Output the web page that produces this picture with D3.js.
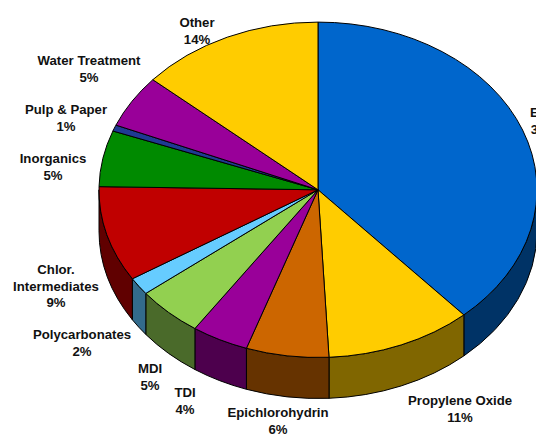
<!DOCTYPE html>
<html>
<head>
<meta charset="utf-8">
<script src="https://cdn.jsdelivr.net/npm/d3@7"></script>
<style>
  html, body { margin: 0; padding: 0; background: #fff; overflow: hidden; }
  text { font-family: "Liberation Sans", Arial, sans-serif; font-weight: bold; font-size: 13.2px; fill: #111; }
</style>
</head>
<body>
<div id="chart"></div>
<script>
// clockwise from 12 o'clock, same order as the picture
const categories = ["EDC", "Propylene Oxide", "Epichlorohydrin", "TDI", "MDI", "Polycarbonates",
  "Chlor.|Intermediates", "Inorganics", "Pulp & Paper", "Water Treatment", "Other"]
const shares = [38.4, 10.8, 6.1, 4.2, 4.9, 1.7, 9.2, 5.4, 0.6, 5.1, 13.6]

const topColors = ["#0066cc", "#ffcc00", "#cc6600", "#990099", "#92d050", "#66ccff",
  "#c00000", "#008a00", "#1f3a93", "#990099", "#ffcc00"]
const sideColors = ["#003366", "#806600", "#663300", "#4d004d", "#4a6a2a", "#336b8c",
  "#600000", "#004500", "#101d4a", "#4d004d", "#806600"]

// label centre x and first baseline y, one per category
const labelX = [544, 460, 278, 185, 150, 82, 56, 53, 66, 89, 197]
const labelY = [117, 405, 417, 397, 373, 339, 274, 163, 114, 65, 27]

const width = 536, height = 435
const cx = 318, cy = 189.8, rx = 219, ry = 167.7, depth = 41
const lineGap = 16.5

const svg = d3.select("#chart").append("svg")
  .attr("width", width)
  .attr("height", height)

const pie = d3.pie().value(d => d).sort(null)
const slices = pie(shares)

// point on the rim, angle measured clockwise from the top
const rimX = a => cx + rx * Math.sin(a)
const rimY = a => cy - ry * Math.cos(a)

/* ~ ~ ~ side wall, only the front half of the rim can be seen ~ ~ ~ */
const wallPath = (from, to) => {
  return `M${rimX(from)},${rimY(from)}`
    + `A${rx},${ry} 0 0 1 ${rimX(to)},${rimY(to)}`
    + `L${rimX(to)},${rimY(to) + depth}`
    + `A${rx},${ry} 0 0 0 ${rimX(from)},${rimY(from) + depth}Z`
}

svg.selectAll(".wall")
  .data(slices.filter(d => d.endAngle > Math.PI / 2 && d.startAngle < 3 * Math.PI / 2))
  .join("path")
  .attr("class", "wall")
  .attr("d", d => wallPath(Math.max(d.startAngle, Math.PI / 2), Math.min(d.endAngle, 3 * Math.PI / 2)))
  .attr("fill", d => sideColors[d.index])
  .attr("stroke", "#000")
  .attr("stroke-width", 1)

/* ~ ~ ~ top face, a flat pie squashed into an ellipse ~ ~ ~ */
const arc = d3.arc().innerRadius(0).outerRadius(rx)

svg.append("g")
  .attr("transform", `translate(${cx},${cy}) scale(1,${ry / rx})`)
  .selectAll("path")
  .data(slices)
  .join("path")
  .attr("d", arc)
  .attr("fill", d => topColors[d.index])
  .attr("stroke", "#000")
  .attr("stroke-width", 1)
  .attr("vector-effect", "non-scaling-stroke")

/* ~ ~ ~ labels ~ ~ ~ */
const labels = svg.selectAll(".label")
  .data(categories)
  .join("text")
  .attr("class", "label")
  .attr("text-anchor", "middle")
  .attr("y", (d, i) => labelY[i])

labels.each(function (d, i) {
  const lines = d.split("|").concat(Math.round(shares[i]) + "%")
  d3.select(this).selectAll("tspan")
    .data(lines)
    .join("tspan")
    .attr("x", labelX[i])
    .attr("dy", (l, j) => j ? lineGap : 0)
    .text(l => l)
})
</script>
</body>
</html>
